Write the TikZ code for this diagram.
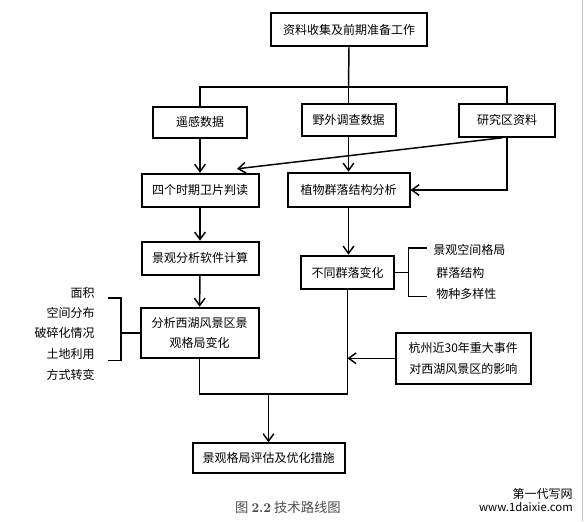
\documentclass[tikz,border=0pt]{standalone}
\usepackage{fontspec}
\newfontfamily\cjk{Noto Sans CJK SC}
\usetikzlibrary{arrows.meta, positioning, calc}

\begin{document}
\begin{tikzpicture}[x=0.75pt, y=-0.75pt,
    every node/.style={font=\cjk\fontsize{9}{15.5}\selectfont},
    box/.style={draw, line width=1.5pt, inner sep=2pt, align=center},
    lbl/.style={inner sep=0pt},
    link/.style={line width=1.1pt},
    arrow/.style={link, -{Straight Barb[length=5.5pt, width=8pt, line width=1.1pt]}}
]
\useasboundingbox (0,0) rectangle (584,521);
\draw[black!25, line width=0.75pt] (582.5,0) -- (582.5,521);

% boxes
\node[box, minimum width=117pt, minimum height=24.75pt] (prep) at (349,29.5) {资料收集及前期准备工作};
\node[box, minimum width=70.5pt, minimum height=23.25pt] (rs) at (200,122.3) {遥感数据};
\node[box, minimum width=70.5pt, minimum height=24pt] (field) at (348.5,120) {野外调查数据};
\node[box, minimum width=72pt, minimum height=24.75pt] (study) at (507,120.3) {研究区资料};
\node[box, minimum width=87.75pt, minimum height=24.75pt] (interp) at (200,190.3) {四个时期卫片判读};
\node[box, minimum width=91.5pt, minimum height=26pt] (veg) at (348.5,190) {植物群落结构分析};
\node[box, minimum width=87.75pt, minimum height=25pt] (calc) at (200,258.3) {景观分析软件计算};
\node[box, minimum width=69.75pt, minimum height=25.25pt] (comm) at (347.5,272.5) {不同群落变化};
\node[box, minimum width=88.5pt, minimum height=38pt] (anal) at (199.5,333) {分析西湖风景区景\\观格局变化};
\node[box, minimum width=101pt, minimum height=38.5pt] (hz) at (463.3,358.3) {杭州近30年重大事件\\对西湖风景区的影响};
\node[box, minimum width=114pt, minimum height=22.5pt] (eval) at (268.5,458.3) {景观格局评估及优化措施};

% connectors
\coordinate (bus) at (348.5,87);
\draw[link] (prep.south) -- (bus);
\draw[link] (rs.north) |- (bus) -| (study.north);
\draw[link] (bus) -- (field.north);
\draw[arrow] (rs.south) -- (rs.south |- interp.north);
\draw[arrow] ([xshift=-3.75pt]study.south) -- ([shift={(37,-4)}]interp.north);
\draw[arrow] (field.south) -- (veg.north);
\draw[arrow] (study.south) |- (veg.east);
\draw[arrow] (interp) -- (calc);
\draw[arrow] (calc) -- (anal);
\draw[arrow] (veg.south) -- (veg.south |- comm.north);
\coordinate (join) at (268.5,394);
\draw[link] (anal.south) |- (join) -| (comm.south);
\draw[arrow] (join) -- (eval.north);
\draw[arrow] (hz.west) -- (hz.west -| comm.south);

% brackets
\draw[link] (comm.east) -- ++(13.5,0) coordinate (rbr);
\draw[link] ([shift={(18,-24.5)}]rbr) -- ++(-18,0) -- ++(0,48.5) -- ++(18,0);
\draw[link] (anal.west) -- ++(-18.3,0) coordinate (lbr);
\draw[link] ([shift={(-13.4,-35)}]lbr) -- ++(13.4,0) -- ++(0,62.7) -- ++(-13.4,0);

% bracket labels
\node[lbl, anchor=west] (rl1) at (433,250) {景观空间格局};
\node[lbl, anchor=west] (rl2) at (436,273) {群落结构};
\node[lbl, anchor=west] (rl3) at (436,294) {物种多样性};
\node[lbl, anchor=east] (ll1) at (95,292.7) {面积};
\node[lbl, anchor=east] (ll2) at (95,313) {空间分布};
\node[lbl, anchor=east] (ll3) at (95,333) {破碎化情况};
\node[lbl, anchor=east] (ll4) at (95,353.5) {土地利用};
\node[lbl, anchor=east] (ll5) at (95,375) {方式转变};

% caption
\node[lbl, text=black!70, font=\cjk\fontsize{10}{12}\selectfont] (cap) at (288,507) {图 {\rmfamily\bfseries 2.2} 技术路线图};
\node[lbl, anchor=east] (wm1) at (573,494) {第一代写网};
\node[lbl, anchor=east, font=\cjk\fontsize{8.5}{10}\selectfont] (wm2) at (573,507) {www.1daixie.com};
\end{tikzpicture}
\end{document}
